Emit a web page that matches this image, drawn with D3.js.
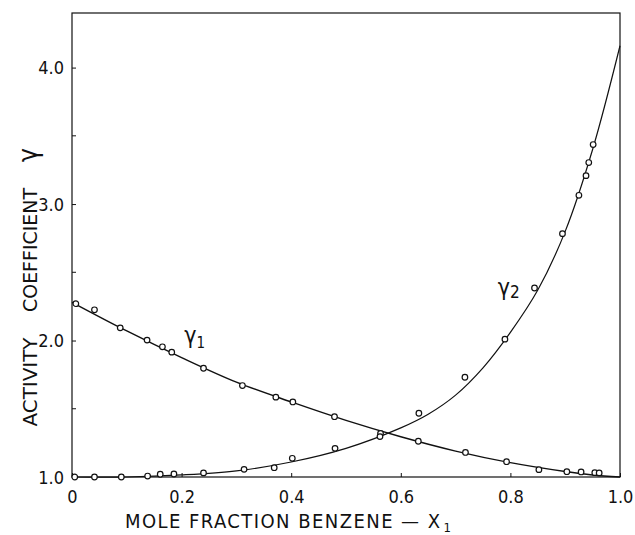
<!DOCTYPE html>
<html>
<head>
<meta charset="utf-8">
<script src="https://cdn.jsdelivr.net/npm/d3@7"></script>
<style>
  body { margin: 0; background: #fff; }
  text { font-family: "DejaVu Sans Condensed", "Liberation Sans Narrow", sans-serif; fill: #111; }
</style>
</head>
<body>
<div id="chart"></div>
<script>
// observed points, gamma 1 (benzene)
var x1Obs = [0.007, 0.041, 0.088, 0.137, 0.165, 0.182, 0.240, 0.311, 0.372, 0.403, 0.479, 0.563, 0.632, 0.718, 0.793, 0.852, 0.903, 0.929, 0.954, 0.962];
var g1Obs = [2.27, 2.225, 2.093, 2.003, 1.954, 1.915, 1.797, 1.67, 1.585, 1.55, 1.442, 1.32, 1.262, 1.18, 1.112, 1.054, 1.039, 1.037, 1.032, 1.03];

// observed points, gamma 2
var x2Obs = [0.005, 0.041, 0.09, 0.138, 0.161, 0.186, 0.24, 0.314, 0.369, 0.402, 0.48, 0.562, 0.633, 0.717, 0.79, 0.844, 0.895, 0.925, 0.938, 0.943, 0.951];
var g2Obs = [1.0, 1.0, 1.0, 1.007, 1.02, 1.022, 1.03, 1.056, 1.068, 1.137, 1.21, 1.296, 1.467, 1.731, 2.01, 2.385, 2.783, 3.064, 3.208, 3.304, 3.436];

// smoothed curves
var xCurve1 = [0, 0.1, 0.2, 0.3, 0.4, 0.5, 0.6, 0.7, 0.8, 0.9, 0.95, 1.0];
var g1Curve = [2.28, 2.07, 1.875, 1.695, 1.55, 1.415, 1.295, 1.19, 1.105, 1.04, 1.015, 1.0];
var xCurve2 = [0, 0.1, 0.2, 0.3, 0.4, 0.5, 0.6, 0.65, 0.7, 0.75, 0.8, 0.85, 0.9, 0.95, 1.0];
var g2Curve = [1.0, 1.0, 1.015, 1.045, 1.11, 1.21, 1.36, 1.46, 1.6, 1.8, 2.06, 2.37, 2.8, 3.4, 4.16];

var xTicks = [0, 0.2, 0.4, 0.6, 0.8, 1.0];
var xTickLabels = ["0", "0.2", "0.4", "0.6", "0.8", "1.0"];
var yTicks = [1.0, 2.0, 3.0, 4.0];
var yMinor = [1.5, 2.5, 3.5];

var W = 635, H = 535;
var margin = {top: 13, right: 15, bottom: 58, left: 72};
var width = W - margin.left - margin.right,
    height = H - margin.top - margin.bottom;

var svg = d3.select("#chart").append("svg")
  .attr("width", W).attr("height", H);
var g = svg.append("g").attr("transform", "translate(" + margin.left + "," + margin.top + ")");

var x = d3.scaleLinear().domain([0, 1]).range([0, width]);
var y = d3.scaleLinear().domain([1.0, 4.4]).range([height, 0]);

// frame
g.append("rect").attr("x", 0).attr("y", 0).attr("width", width).attr("height", height)
  .attr("fill", "none").attr("stroke", "#111").attr("stroke-width", 1.2);

// x axis ticks (inward)
var xa = g.append("g").attr("transform", "translate(0," + height + ")")
  .call(d3.axisBottom(x).tickValues(xTicks).tickSize(-4).tickPadding(13)
    .tickFormat(function(d, i) { return xTickLabels[i]; }));
xa.select(".domain").remove();
xa.selectAll("line").attr("stroke", "#111");
xa.selectAll("text").style("font-size", "18px").attr("fill", "#111");

// y axis ticks (inward)
var ya = g.append("g")
  .call(d3.axisLeft(y).tickValues(yTicks).tickSize(-4).tickPadding(8).tickFormat(d3.format(".1f")));
ya.select(".domain").remove();
ya.selectAll("line").attr("stroke", "#111");
ya.selectAll("text").style("font-size", "18px").attr("fill", "#111").attr("dy", "0.35em");
g.selectAll(".minor").data(yMinor).enter().append("line")
  .attr("x1", 0).attr("x2", 4).attr("y1", d => y(d)).attr("y2", d => y(d))
  .attr("stroke", "#111");

// curves
var line = d3.line().x(d => x(d[0])).y(d => y(d[1])).curve(d3.curveCatmullRom.alpha(0.5));
g.append("path").datum(d3.zip(xCurve1, g1Curve)).attr("d", line)
  .attr("fill", "none").attr("stroke", "#111").attr("stroke-width", 1.4);
g.append("path").datum(d3.zip(xCurve2, g2Curve)).attr("d", line)
  .attr("fill", "none").attr("stroke", "#111").attr("stroke-width", 1.2);

// points
function pts(xs, ys) {
  g.append("g").selectAll("circle").data(d3.zip(xs, ys)).enter().append("circle")
    .attr("cx", d => x(d[0])).attr("cy", d => y(d[1])).attr("r", 2.8)
    .attr("fill", "#fff").attr("stroke", "#111").attr("stroke-width", 1.2);
}
pts(x1Obs, g1Obs);
pts(x2Obs, g2Obs);

// curve labels
var l1 = g.append("text").attr("x", x(0.205)).attr("y", y(1.98)).style("font-size", "23px");
l1.append("tspan").text("γ");
l1.append("tspan").attr("dy", 5).style("font-size", "15px").text("1");
var l2 = g.append("text").attr("x", x(0.777)).attr("y", y(2.33)).style("font-size", "23px");
l2.append("tspan").text("γ");
l2.append("tspan").attr("dy", 3).style("font-size", "17px").text("2");

// axis titles
var xt = svg.append("text").attr("x", 125).attr("y", 528).style("font-size", "20px");
xt.append("tspan").attr("textLength", 315).attr("lengthAdjust", "spacing").text("MOLE  FRACTION  BENZENE — X");
xt.append("tspan").attr("dy", 4).attr("dx", 2).style("font-size", "13px").text("1");

var yt = svg.append("g").attr("transform", "translate(37,0) rotate(-90)");
yt.append("text").attr("x", -382).attr("text-anchor", "middle").style("font-size", "20px")
  .attr("textLength", 89).attr("lengthAdjust", "spacingAndGlyphs").text("ACTIVITY");
yt.append("text").attr("x", -250).attr("text-anchor", "middle").style("font-size", "20px")
  .attr("textLength", 124).attr("lengthAdjust", "spacingAndGlyphs").text("COEFFICIENT");
yt.append("text").attr("x", -155).attr("text-anchor", "middle").style("font-size", "26px").text("γ");
</script>
</body>
</html>
